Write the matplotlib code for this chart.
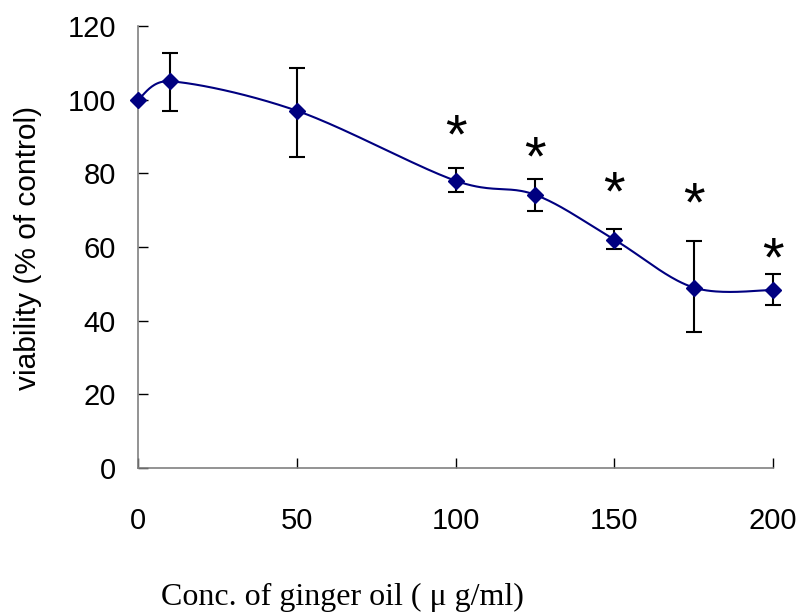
import numpy as np
import matplotlib
matplotlib.use("Agg")
import matplotlib.pyplot as plt
import matplotlib.transforms as mtransforms

# Data
conc = [0, 10, 50, 100, 125, 150, 175, 200]
viability = [100, 105, 97, 78, 74.2, 62, 49, 48.3]
err_low = [0, 8, 12.5, 3.2, 4.4, 2.6, 12.0, 4.1]
err_high = [0, 7.8, 11.5, 3.5, 4.3, 2.9, 12.6, 4.3]
star_x = [100, 125, 150, 175, 200]
star_y = [92.7, 86.7, 77.2, 74.2, 59.5]
x_ticks = [0, 50, 100, 150, 200]
y_ticks = [0, 20, 40, 60, 80, 100, 120]

navy = "#000080"
sans = ["Liberation Sans", "DejaVu Sans"]
serif = ["Liberation Serif", "DejaVu Serif"]

fig = plt.figure(figsize=(7.99, 6.16), dpi=100)
ax = fig.add_axes([138 / 799, 148 / 616, 635 / 799, 442 / 616])
ax.set_xlim(0, 200)
ax.set_ylim(0, 120)


def smooth_curve(xs, ys, n=40):
    """Excel-like smoothed line: Bezier segments, control vectors capped
    to half the segment length (computed in display space)."""
    D = ax.transData.transform(np.column_stack([xs, ys]).astype(float))
    m = len(D)
    out = [D[0]]
    t = np.linspace(0, 1, n)[1:, None]
    for i in range(m - 1):
        p0 = D[i - 1] if i > 0 else D[i]
        p1 = D[i]
        p2 = D[i + 1]
        p3 = D[i + 2] if i + 2 < m else D[i + 1]
        d12 = np.linalg.norm(p2 - p1)
        d02 = np.linalg.norm(p2 - p0)
        d13 = np.linalg.norm(p3 - p1)
        f1 = 1 / 6.0
        f2 = 1 / 6.0
        if d02 / 6.0 > d12 / 2.0 and d02 > 0:
            f1 = d12 / 2.0 / d02
        if d13 / 6.0 > d12 / 2.0 and d13 > 0:
            f2 = d12 / 2.0 / d13
        c1 = p1 + (p2 - p0) * f1
        c2 = p2 - (p3 - p1) * f2
        seg = ((1 - t) ** 3) * p1 + 3 * ((1 - t) ** 2) * t * c1 + 3 * (1 - t) * t ** 2 * c2 + t ** 3 * p2
        out.extend(seg)
    out = np.array(out)
    back = ax.transData.inverted().transform(out)
    return back[:, 0], back[:, 1]


cx, cy = smooth_curve(conc, viability)
ax.plot(cx, cy, color=navy, lw=1.5, clip_on=False, zorder=3)

ax.errorbar(conc[1:], viability[1:], yerr=[err_low[1:], err_high[1:]], fmt="none",
            ecolor="black", elinewidth=1.5, capsize=5.5, capthick=1.5, clip_on=False, zorder=2)
ax.plot(conc, viability, linestyle="none", marker="D", markersize=8.5,
        color=navy, markeredgecolor=navy, clip_on=False, zorder=4)

# asterisks (glyph centre ~0.47 em above baseline)
star_fs = 40
trans = mtransforms.offset_copy(ax.transData, fig=fig, x=0, y=-0.47 * star_fs, units="points")
for sx, sy in zip(star_x, star_y):
    ax.text(sx, sy, "*", transform=trans, ha="center", va="baseline",
            fontsize=star_fs, family=sans, color="black")

ax.set_xticks(x_ticks)
ax.set_yticks(y_ticks)
ax.set_xticklabels([str(v) for v in x_ticks], family=sans, fontsize=21)
ax.set_yticklabels([str(v) for v in y_ticks], family=sans, fontsize=21)

for side in ["top", "right"]:
    ax.spines[side].set_visible(False)
ax.spines["left"].set_color("#808080")
ax.spines["bottom"].set_color("#808080")
ax.spines["left"].set_linewidth(1.2)
ax.spines["bottom"].set_linewidth(1.2)

ax.tick_params(axis="x", direction="in", length=7, width=1, color="black", pad=28)
ax.tick_params(axis="y", direction="in", length=7, width=1, color="black", pad=16)

fig.text(28 / 799, 1 - 248 / 616, "viability (% of control)", rotation=90,
         ha="center", va="center", fontsize=21.5, family=sans)
fig.text(342 / 799, 1 - 597 / 616, "Conc. of ginger oil ( \u03bc g/ml)",
         ha="center", va="center", fontsize=23, family=serif)

fig.savefig("out.png", dpi=100)
